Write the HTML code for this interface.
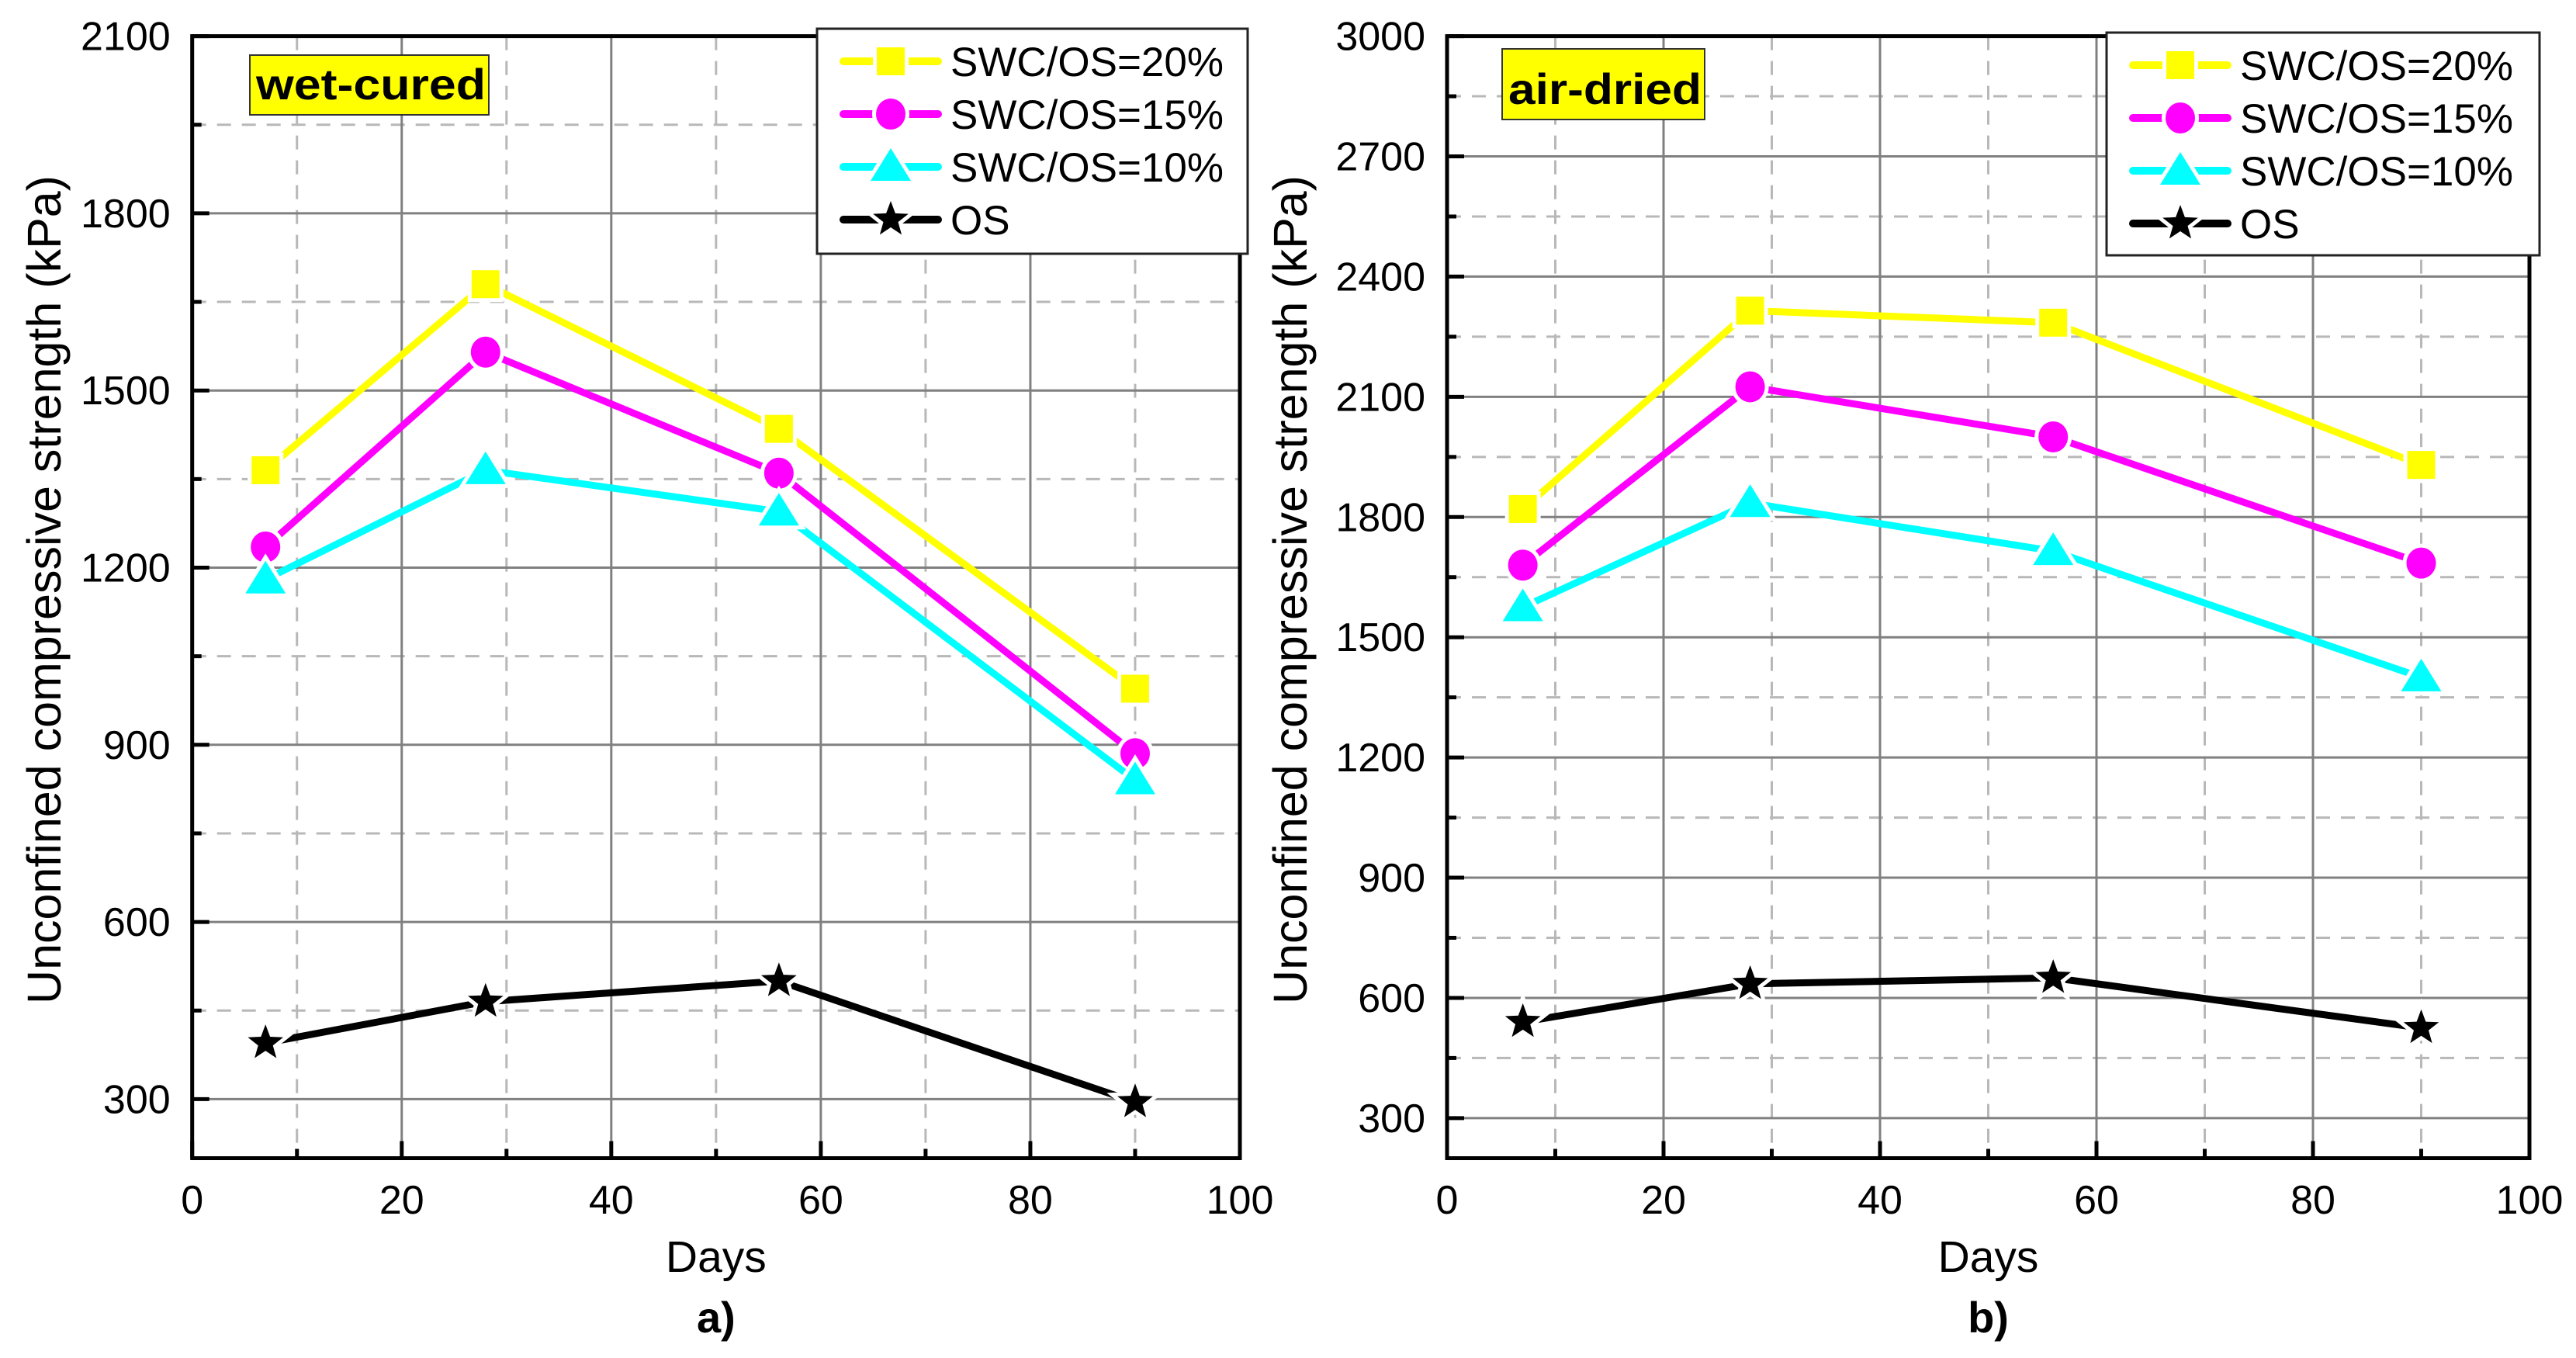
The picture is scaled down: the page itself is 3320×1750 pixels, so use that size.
<!DOCTYPE html>
<html><head><meta charset="utf-8">
<style>
html,body{margin:0;padding:0;background:#fff;}
svg{display:block;font-family:"Liberation Sans",Arial,sans-serif;}
</style></head>
<body>
<svg id="fig" width="3320" height="1750" viewBox="0 0 3320 1750" xmlns="http://www.w3.org/2000/svg"></svg>
<script>
const days = [7, 28, 56, 90];
const seriesNames = ["SWC/OS=20%", "SWC/OS=15%", "SWC/OS=10%", "OS"];
const wet20 = [1365, 1680, 1435, 995];
const wet15 = [1235, 1565, 1360, 885];
const wet10 = [1180, 1365, 1295, 840];
const wetOS = [395, 465, 500, 295];
const air20 = [1820, 2315, 2285, 1930];
const air15 = [1680, 2125, 2000, 1685];
const air10 = [1575, 1835, 1715, 1400];
const airOS = [540, 635, 650, 525];
const xTicks = [0, 20, 40, 60, 80, 100];
const wetYTicks = [300, 600, 900, 1200, 1500, 1800, 2100];
const airYTicks = [300, 600, 900, 1200, 1500, 1800, 2100, 2400, 2700, 3000];

const NS = "http://www.w3.org/2000/svg";
const svg = document.getElementById("fig");
function mk(tag, attrs, parent, text) {
  const e = document.createElementNS(NS, tag);
  for (const k in attrs) e.setAttribute(k, attrs[k]);
  if (text !== undefined) e.textContent = text;
  (parent || svg).appendChild(e);
  return e;
}
const colors = ["#ffff00", "#ff00ff", "#00ffff", "#000000"];
const shapes = ["square", "circle", "triangle", "star"];

function marker(g, shape, cx, cy, color, halo) {
  let el;
  if (shape === "square") {
    el = mk("rect", {x: cx - 18, y: cy - 18, width: 36, height: 36, fill: color}, g);
  } else if (shape === "circle") {
    el = mk("ellipse", {cx: cx, cy: cy, rx: 19, ry: 20, fill: color}, g);
  } else if (shape === "triangle") {
    el = mk("polygon", {points: `${cx},${cy - 24} ${cx + 26},${cy + 18} ${cx - 26},${cy + 18}`, fill: color}, g);
  } else {
    let pts = [];
    for (let i = 0; i < 10; i++) {
      const r = i % 2 === 0 ? 24 : 10;
      const a = -Math.PI / 2 + i * Math.PI / 5;
      pts.push((cx + r * Math.cos(a)).toFixed(1) + "," + (cy + r * Math.sin(a)).toFixed(1));
    }
    el = mk("polygon", {points: pts.join(" "), fill: color}, g);
  }
  if (halo) { el.setAttribute("stroke", "#fff"); el.setAttribute("stroke-width", "10"); el.setAttribute("paint-order", "stroke"); }
  return el;
}

function panel(cfg) {
  const g = mk("g", {});
  
  
  const L = cfg.left, R = cfg.right, T = 46.6, B = 1492.5;
  const X = v => L + (v - 0) / 100 * (R - L);
  const Y = v => B - (v - cfg.ymin) / (cfg.ymax - cfg.ymin) * (B - T);
  for (let v = 10; v < 100; v += 20) {
    const l = mk("line", {x1: X(v), x2: X(v), y1: T, y2: B, stroke: "#b8b8b8", "stroke-width": 3, "stroke-dasharray": "18 14"}, g);
    
    
  }
  for (let v = cfg.ymax - 150; v > cfg.ymin; v -= 300) {
    const l = mk("line", {x1: L, x2: R, y1: Y(v), y2: Y(v), stroke: "#b8b8b8", "stroke-width": 3, "stroke-dasharray": "18 14"}, g);
    
    
  }
  xTicks.forEach(v => {
    if (v > 0 && v < 100) {
      const l = mk("line", {x1: X(v), x2: X(v), y1: T, y2: B, stroke: "#808080", "stroke-width": 3}, g);
      
      
    }
  });
  cfg.yticks.forEach(v => {
    if (v < cfg.ymax) {
      const l = mk("line", {x1: L, x2: R, y1: Y(v), y2: Y(v), stroke: "#808080", "stroke-width": 3}, g);
      
      
    }
  });
  xTicks.forEach(v => {
    mk("line", {x1: X(v), x2: X(v), y1: B, y2: B - 22, stroke: "#000", "stroke-width": 5}, g);
    const t = mk("text", {x: X(v), y: 1564, "font-size": 52, "text-anchor": "middle"}, g, String(v));
    
    
  });
  for (let v = 10; v < 100; v += 20) mk("line", {x1: X(v), x2: X(v), y1: B, y2: B - 12, stroke: "#000", "stroke-width": 5}, g);
  cfg.yticks.forEach(v => {
    mk("line", {x1: L, x2: L + 22, y1: Y(v), y2: Y(v), stroke: "#000", "stroke-width": 5}, g);
    const t = mk("text", {x: L - 28, y: Y(v) + 18, "font-size": 52, "text-anchor": "end"}, g, String(v));
    
    
  });
  for (let v = cfg.ymax - 150; v > cfg.ymin; v -= 300) mk("line", {x1: L, x2: L + 12, y1: Y(v), y2: Y(v), stroke: "#000", "stroke-width": 5}, g);
  const fr = mk("rect", {x: L, y: T, width: R - L, height: B - T, fill: "none", stroke: "#000", "stroke-width": 5}, g);
  
  
  cfg.series.forEach((vals, si) => {
    const sg = mk("g", {}, g);
    
    
    const pts = vals.map((v, i) => X(days[i]) + "," + Y(v)).join(" ");
    mk("polyline", {points: pts, fill: "none", stroke: colors[si], "stroke-width": 9, "stroke-linejoin": "round"}, sg);
    vals.forEach((v, i) => {
      const m = marker(sg, shapes[si], X(days[i]), Y(v), colors[si], true);
      
      
    });
  });
  const tb = mk("g", {}, g);
  
  
  mk("rect", {x: cfg.tag.x, y: cfg.tag.y, width: cfg.tag.w, height: cfg.tag.h, fill: "#ffff00", stroke: "#333", "stroke-width": 2}, tb);
  mk("text", {x: cfg.tag.x + 8, y: cfg.tag.y + cfg.tag.h - 20, "font-size": 56, "font-weight": "bold", textLength: cfg.tag.w - 12, lengthAdjust: "spacingAndGlyphs"}, tb, cfg.tag.text);
  const lg = mk("g", {}, g);
  
  
  const lx = cfg.leg.x, ly = cfg.leg.y;
  mk("rect", {x: lx, y: ly, width: cfg.leg.w, height: cfg.leg.h, fill: "#fff", stroke: "#222", "stroke-width": 3}, lg);
  const rows = [42, 110, 178, 246];
  seriesNames.forEach((n, i) => {
    const e = mk("g", {}, lg);
    
    
    const cy = ly + rows[i];
    mk("line", {x1: lx + 34, x2: lx + 156, y1: cy, y2: cy, stroke: colors[i], "stroke-width": 10, "stroke-linecap": "round"}, e);
    marker(e, shapes[i], lx + 95, cy, colors[i], true);
    mk("text", {x: lx + 172, y: cy + 19, "font-size": 53}, e, n);
  });
  const xt = mk("text", {x: (L + R) / 2, y: 1639, "font-size": 57, "text-anchor": "middle"}, g, "Days");
  
  
  const yt = mk("text", {x: 0, y: 0, "font-size": 61, "text-anchor": "middle", transform: `translate(${cfg.ytx},760) rotate(-90)`}, g, "Unconfined compressive strength (kPa)");
  
  
  const pl = mk("text", {x: (L + R) / 2, y: 1717, "font-size": 56, "font-weight": "bold", "text-anchor": "middle"}, g, cfg.label);
  
  
}

panel({name: "wet-cured-chart", left: 247.7, right: 1598, ymin: 200, ymax: 2100, yticks: wetYTicks,
  series: [wet20, wet15, wet10, wetOS], ytx: 78, label: "a)",
  tag: {x: 322, y: 71, w: 308, h: 77, text: "wet-cured"},
  leg: {x: 1053, y: 37, w: 555, h: 290}});
panel({name: "air-dried-chart", left: 1865, right: 3260, ymin: 200, ymax: 3000, yticks: airYTicks,
  series: [air20, air15, air10, airOS], ytx: 1684, label: "b)",
  tag: {x: 1936, y: 63, w: 261, h: 91, text: "air-dried"},
  leg: {x: 2715, y: 42, w: 558, h: 287}});
</script>
</body></html>
